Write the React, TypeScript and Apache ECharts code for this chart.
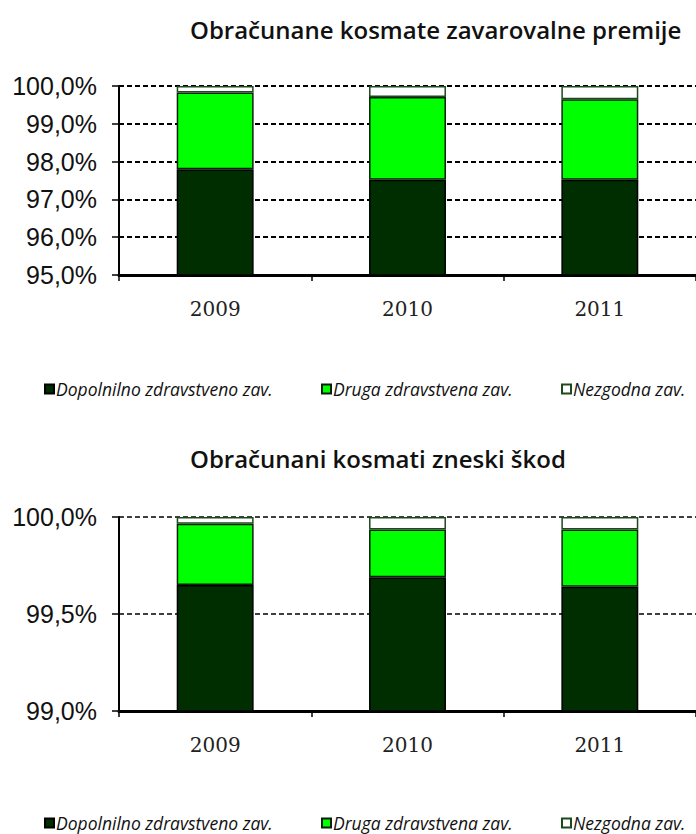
import React, { useEffect, useRef } from "react";
import * as echarts from "echarts";

// Years on the category axis
const years = ["2009", "2010", "2011"];

// Series names
const seriesNames = [
  "Dopolnilno zdravstveno zav.",
  "Druga zdravstvena zav.",
  "Nezgodna zav.",
];

// Obračunane kosmate zavarovalne premije (share in %)
const premDopolnilno = [97.8, 97.52, 97.52];
const premDruga = [2.03, 2.19, 2.13];
const premNezgodna = [0.17, 0.29, 0.35];

// Obračunani kosmati zneski škod (share in %)
const skodDopolnilno = [99.65, 99.69, 99.64];
const skodDruga = [0.315, 0.245, 0.295];
const skodNezgodna = [0.035, 0.065, 0.065];

const titles = [
  "Obračunane kosmate zavarovalne premije",
  "Obračunani kosmati zneski škod",
];

const COLORS = ["#002e00", "#00ff00", "#ffffff"];
const BORDERS = ["#000000", "#0a1f0a", "#1c4a1c"];

const fmtPct = (v: number) => v.toFixed(1).replace(".", ",") + "%";

export default function App() {
  const ref = useRef<HTMLDivElement>(null);

  useEffect(() => {
    if (!ref.current) return;
    const chart = echarts.init(ref.current, null, { renderer: "svg" });

    const grids = [
      { left: 119, top: 86, width: 582, height: 189 },
      { left: 119, top: 517, width: 582, height: 194 },
    ];

    const yRanges = [
      { min: 95, max: 100, interval: 1 },
      { min: 99, max: 100, interval: 0.5 },
    ];

    const data = [
      [premDopolnilno, premDruga, premNezgodna],
      [skodDopolnilno, skodDruga, skodNezgodna],
    ];

    const xAxes = grids.map((_, i) => ({
      type: "category",
      gridIndex: i,
      data: years,
      axisLine: { lineStyle: { color: "#000", width: 3 } },
      axisTick: {
        show: true,
        length: 6,
        inside: false,
        lineStyle: { color: "#000", width: 1.5 },
      },
      axisLabel: {
        color: "#222",
        fontFamily: "DejaVu Serif",
        fontSize: 20,
        margin: 24,
      },
    }));

    const yAxes = grids.map((_, i) => ({
      type: "value",
      gridIndex: i,
      min: yRanges[i].min,
      max: yRanges[i].max,
      interval: yRanges[i].interval,
      axisLine: { show: true, lineStyle: { color: "#000", width: 2 } },
      axisTick: { show: true, length: 7, lineStyle: { color: "#000", width: 1.5 } },
      axisLabel: {
        color: "#111",
        fontFamily: "Liberation Sans",
        fontSize: 25,
        margin: 22,
        formatter: (v: number) => fmtPct(v),
      },
      splitLine: {
        show: true,
        lineStyle: { color: "#000", width: i === 0 ? 1.8 : 1.5, type: [5, 3] },
      },
    }));

    const series: any[] = [];
    data.forEach((group, gi) => {
      group.forEach((vals, si) => {
        series.push({
          type: "bar",
          name: seriesNames[si],
          xAxisIndex: gi,
          yAxisIndex: gi,
          stack: "s" + gi,
          barWidth: "40%",
          data: vals,
          itemStyle: {
            color: COLORS[si],
            borderColor: BORDERS[si],
            borderWidth: 1.5,
          },
          emphasis: { disabled: true },
        });
      });
    });

    // one legend per entry so each can be placed on its own
    const legendLeft = [44, 321, 561];
    const legendTop = [380, 814];
    const legends: any[] = [];
    legendTop.forEach((top) => {
      seriesNames.forEach((name, si) => {
        legends.push({
          data: [name],
          left: legendLeft[si],
          top,
          icon: "rect",
          itemWidth: 9,
          itemHeight: 9,
          itemGap: 0,
          padding: 0,
          selectedMode: false,
          textStyle: {
            fontFamily: "Open Sans",
            fontStyle: "italic",
            fontSize: 17.5,
            color: "#111",
            padding: [0, 0, 0, -3],
          },
        });
      });
    });

    const titleStyle = {
      fontFamily: "Open Sans",
      fontWeight: 600,
      fontSize: 24,
      color: "#111",
    };

    chart.setOption({
      animation: false,
      backgroundColor: "#fff",
      title: [
        { text: titles[0], left: 190, top: 17, padding: 0, textStyle: titleStyle },
        { text: titles[1], left: 190, top: 446, padding: 0, textStyle: titleStyle },
      ],
      legend: legends,
      grid: grids,
      xAxis: xAxes,
      yAxis: yAxes,
      series,
    });

    return () => chart.dispose();
  }, []);

  return (
    <div
      ref={ref}
      style={{ position: "fixed", left: 0, top: 0, width: 696, height: 834 }}
    />
  );
}
